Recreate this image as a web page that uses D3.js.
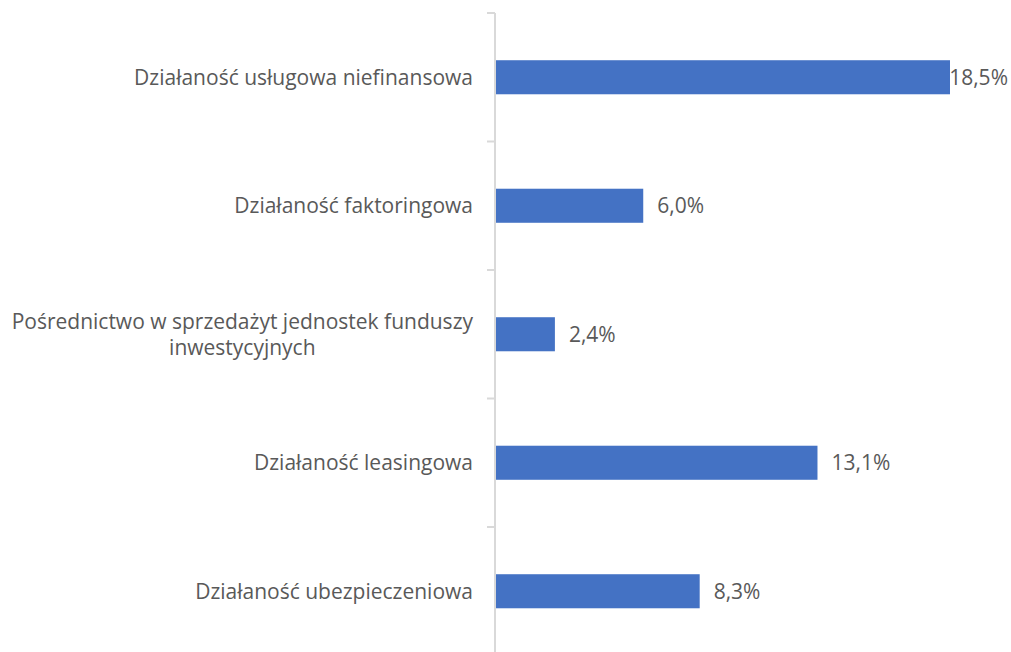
<!DOCTYPE html>
<html lang="pl">
<head>
<meta charset="utf-8">
<title>Działalność</title>
<script src="https://d3js.org/d3.v7.min.js"></script>
<style>
  body { margin: 0; background: #fff; }
  text { font-family: "Open Sans", sans-serif; fill: #595959; }
</style>
</head>
<body>
<svg width="1011" height="652"></svg>
<script>
  var categories = [
    "Działaność usługowa niefinansowa",
    "Działaność faktoringowa",
    "Pośrednictwo w sprzedażyt jednostek funduszy inwestycyjnych",
    "Działaność leasingowa",
    "Działaność ubezpieczeniowa"
  ];
  var values = [18.5, 6.0, 2.4, 13.1, 8.3];
  var valueLabels = ["18,5%", "6,0%", "2,4%", "13,1%", "8,3%"];

  var svg = d3.select("svg"),
      W = +svg.attr("width"),
      H = +svg.attr("height"),
      axisX = 495,
      plotTop = 13, plotBottom = 655.5,
      fs = 21;

  var y = d3.scaleBand().domain(categories).range([plotTop, plotBottom]).paddingInner(0.735).paddingOuter(0.3675);
  var x = d3.scaleLinear().domain([0, 18.5]).range([axisX + 1, 950]);

  // bars
  svg.selectAll("rect.bar")
    .data(values)
    .enter().append("rect")
    .attr("class", "bar")
    .attr("x", x(0))
    .attr("y", function(d, i) { return y(categories[i]); })
    .attr("width", function(d) { return x(d) - x(0); })
    .attr("height", y.bandwidth())
    .attr("fill", "#4472c4");

  // axis line + ticks on band boundaries
  svg.append("line")
    .attr("x1", axisX).attr("x2", axisX)
    .attr("y1", plotTop).attr("y2", H)
    .attr("stroke", "#d9d9d9").attr("stroke-width", 2);
  var step = y.step();
  d3.range(categories.length + 1).forEach(function(i) {
    svg.append("line")
      .attr("x1", axisX - 8).attr("x2", axisX)
      .attr("y1", plotTop + i * step).attr("y2", plotTop + i * step)
      .attr("stroke", "#d9d9d9").attr("stroke-width", 2);
  });

  // value labels
  svg.selectAll("text.val")
    .data(values)
    .enter().append("text")
    .attr("class", "val")
    .attr("font-size", fs)
    .attr("dy", "0.35em")
    .attr("y", function(d, i) { return y(categories[i]) + y.bandwidth() / 2; })
    .text(function(d, i) { return valueLabels[i]; })
    .attr("x", function(d) {
      var w = this.getComputedTextLength();
      return Math.min(x(d) + 14, W - 3 - w);
    });

  // category labels, wrapped at a max width
  var labelRight = 473, maxW = 468;
  categories.forEach(function(c) {
    var cy = y(c) + y.bandwidth() / 2;
    var t = svg.append("text").attr("font-size", fs).attr("text-anchor", "end");
    var words = c.split(" "), lines = [], line = [];
    var probe = svg.append("text").attr("font-size", fs);
    words.forEach(function(w) {
      line.push(w);
      probe.text(line.join(" "));
      if (probe.node().getComputedTextLength() > maxW && line.length > 1) {
        line.pop();
        lines.push(line.join(" "));
        line = [w];
      }
    });
    lines.push(line.join(" "));
    var widths = lines.map(function(l) { probe.text(l); return probe.node().getComputedTextLength(); });
    probe.remove();
    var lh = 26;
    if (lines.length === 1) {
      t.attr("x", labelRight).attr("y", cy).attr("dy", "0.35em").text(lines[0]);
    } else {
      var cx = labelRight - d3.max(widths) / 2;
      t.attr("text-anchor", "middle");
      lines.forEach(function(l, k) {
        t.append("tspan")
          .attr("x", cx)
          .attr("y", cy + (k - (lines.length - 1) / 2) * lh)
          .attr("dy", "0.35em")
          .text(l);
      });
    }
  });
</script>
</body>
</html>
